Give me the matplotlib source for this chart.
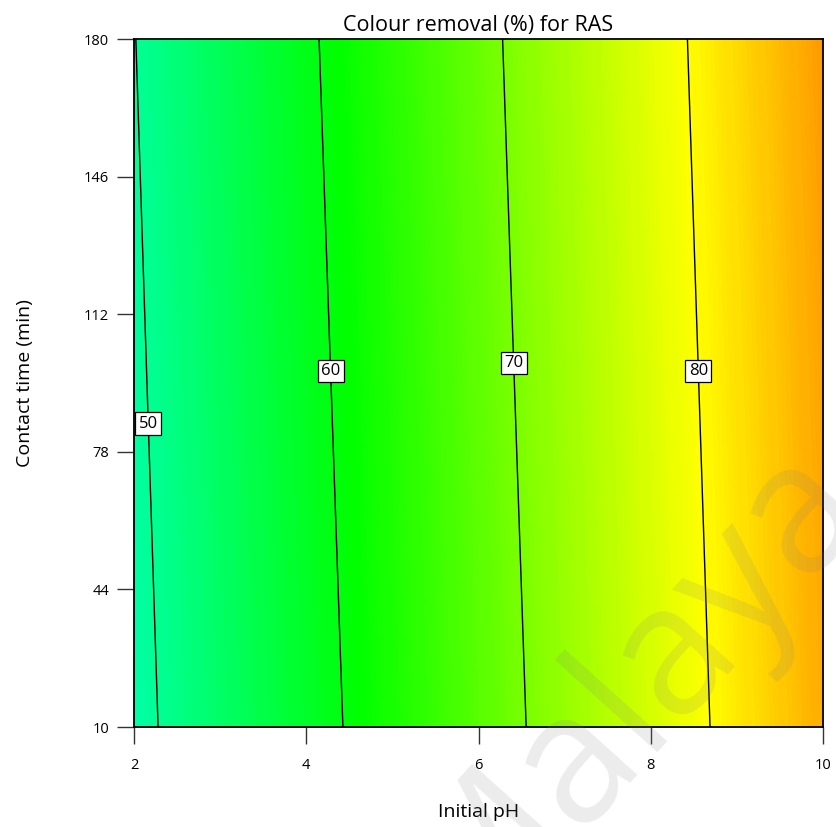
import numpy as np
import matplotlib.pyplot as plt
from matplotlib.colors import LinearSegmentedColormap

plt.rcParams['font.family'] = ['Open Sans', 'DejaVu Sans']

# Datos
ph = [2, 4, 6, 8, 10]
tiempo = [10, 180]
remocion = [
    [48.7, 58.0, 67.4, 76.8, 86.1],   # t = 10 min
    [49.9, 59.3, 68.7, 78.0, 87.4],   # t = 180 min
]
niveles = [50, 60, 70, 80]
pos_etiquetas = [(2.2, 85), (4.3, 98), (6.45, 100), (8.55, 98)]
yticks = [10, 44, 78, 112, 146, 180]
xticks = [2, 4, 6, 8, 10]

def main():
    X, Y = np.meshgrid(ph, tiempo)
    Z = np.array(remocion)

    cmap = LinearSegmentedColormap.from_list(
        'de', ['#0000ff', '#00ffff', '#00ff00', '#ffff00', '#ff0000'])

    fig = plt.figure(figsize=(8.37, 8.27), dpi=100)
    ax = fig.add_axes([0.1601, 0.1209, 0.8232, 0.8319])

    ax.contourf(X, Y, Z, levels=np.linspace(23, 99, 300), cmap=cmap,
                vmin=23, vmax=99)
    cs = ax.contour(X, Y, Z, levels=niveles, colors='black', linewidths=1.0)
    etiquetas = ax.clabel(cs, fmt='%d', inline=False, manual=pos_etiquetas,
                          fontsize=12)
    for t in etiquetas:
        t.set_rotation(0)
        t.set_color('black')
        t.set_bbox(dict(boxstyle='square,pad=0.2', facecolor='white',
                        edgecolor='black', linewidth=0.9))
        t.set_zorder(5)

    ax.set_xlim(2, 10)
    ax.set_ylim(10, 180)
    ax.set_xticks(xticks)
    ax.set_yticks(yticks)
    ax.tick_params(direction='out', length=12, width=1.0, color='#333333',
                   labelsize=10.5, pad=6)
    ax.tick_params(axis='x', pad=10)
    for s in ax.spines.values():
        s.set_linewidth(1.3)

    ax.set_title('Colour removal (%) for RAS', fontsize=15.5, pad=6)
    ax.set_xlabel('Initial pH', fontsize=14, labelpad=22)
    ax.set_ylabel('Contact time (min)', fontsize=14, labelpad=36)

    # Marca de agua
    fig.text(0.755, 0.165, 'Malaya', fontsize=130, rotation=48, color='gray',
             alpha=0.15, ha='center', va='center', zorder=10)

    fig.savefig('out.png', dpi=100)

if __name__ == "__main__":
    main()
